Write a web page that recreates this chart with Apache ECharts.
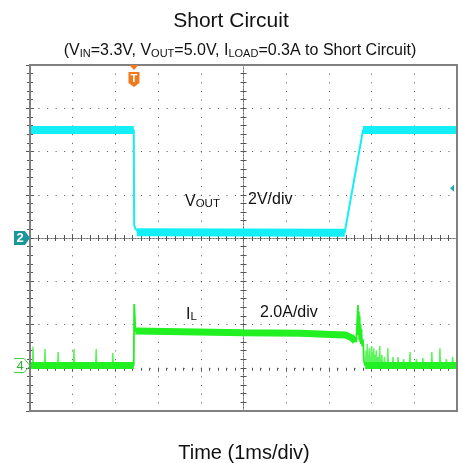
<!DOCTYPE html>
<html><head><meta charset="utf-8">
<script src="https://cdn.jsdelivr.net/npm/echarts@6/dist/echarts.min.js"></script>
<style>html,body{margin:0;padding:0;background:#fff}#c{width:462px;height:463px}</style>
</head><body><div id="c"></div>
<script>
// ---- data (time in ms, VOUT in V, IL in A) ----
const voutTime = [0, 2.43, 2.44, 2.47, 2.52, 2.60, 7.37, 7.80, 10];
const voutVolt = [5.0, 5.0, 0.6, 0.42, 0.32, 0.25, 0.25, 5.0, 5.0];
// flat (noisy, thick) parts of VOUT; null separates segments
const voutBandTime = [0, 2.43, null, 2.50, 7.37, null, 7.80, 10];
const voutBandVolt = [5.0, 5.0, null, 0.27, 0.24, null, 5.0, 5.0];

const ilTime = [0, 2.43, 2.44, 2.47, 2.60, 5.0, 6.32, 7.38, 7.54, 7.64, 7.68, 7.69, 7.70, 7.71, 7.72, 7.73, 7.74, 7.75, 7.76, 7.78, 7.80, 7.82, 7.85, 10];
const ilAmp  = [0.1, 0.1, 2.95, 1.7, 1.72, 1.62, 1.6, 1.52, 1.38, 1.19, 2.9, 1.5, 2.6, 1.3, 2.4, 1.2, 2.0, 1.1, 1.8, 1.0, 1.3, 0.3, 0.1, 0.1];
const ilBandTime = [0, 2.43, null, 2.47, 5.0, 6.32, 7.38, 7.54, 7.62, null, 7.85, 10];
const ilBandAmp  = [0.1, 0.1, null, 1.7, 1.62, 1.6, 1.52, 1.38, 1.22, null, 0.1, 0.1];
// noise spikes on IL (time, peak)
const ilSpikeTime = [0.07, 0.35, 0.66, 1.03, 1.55, 1.94,
  7.87, 7.90, 7.92, 7.95, 7.97, 8.00, 8.02, 8.05, 8.08, 8.11, 8.15, 8.19, 8.24, 8.30, 8.38, 8.50, 8.62, 8.75, 8.90, 9.05, 9.20, 9.41, 9.60, 9.75, 9.90];
const ilSpikePeak = [0.97, 0.87, 0.73, 0.87, 0.87, 0.68,
  0.8, 1.1, 0.6, 0.9, 0.5, 1.0, 0.7, 0.9, 0.6, 0.8, 0.5, 1.0, 0.6, 0.5, 0.9, 0.5, 0.5, 0.4, 0.73, 0.4, 0.45, 0.73, 0.9, 0.4, 0.5];
const ilSpikeBase = 0.1;

// axis scales
const timeMin = 0, timeMax = 10, timeStep = 1;
const voutMin = -8, voutMax = 8, voutStep = 2;
const ilMin = -2, ilMax = 14, ilStep = 2;

function pairs(xs, ys) { return xs.map((x, i) => (x === null ? [null, null] : [x, ys[i]])); }
function spikes() {
  const out = [];
  ilSpikeTime.forEach((t, i) => {
    out.push([t - 0.012, ilSpikeBase], [t, ilSpikePeak[i]], [t + 0.012, ilSpikeBase], [null, null]);
  });
  return out;
}

const cyan = '#14eef6';
const green = '#22f022', greenThin = '#5cf45c';
const tickCol = '#555';
const FONT = '"Liberation Sans", Arial, sans-serif';

const chart = echarts.init(document.getElementById('c'), null, { renderer: 'canvas' });

const gridRect = { left: 30, right: 5, top: 65, bottom: 52 };
const dotsV = [1, 7.65], dotsH = [1, 7.54];

const borderAxis = (extra) => Object.assign({
  type: 'value', min: timeMin, max: timeMax, interval: timeStep,
  axisLine: { show: false },
  axisTick: { show: true, inside: true, length: 4, lineStyle: { color: tickCol } },
  minorTick: { show: true, splitNumber: 5, length: 3, lineStyle: { color: tickCol } },
  axisLabel: { show: false }, splitLine: { show: false }
}, extra);

const centerAxis = (extra) => Object.assign({
  type: 'value',
  axisLine: { show: true, onZero: true, lineStyle: { color: '#666', type: [1, 2], width: 1 } },
  axisTick: { show: true, length: 3, lineStyle: { color: tickCol } },
  minorTick: { show: true, splitNumber: 5, length: 3, lineStyle: { color: tickCol } },
  axisLabel: { show: false }, splitLine: { show: false }
}, extra);

const option = {
  animation: false,
  backgroundColor: '#fff',
  grid: [
    Object.assign({ show: true, borderColor: '#808080', borderWidth: 2, backgroundColor: 'transparent', z: 5 }, gridRect),
    Object.assign({}, gridRect),
    Object.assign({}, gridRect)
  ],
  xAxis: [
    borderAxis({ gridIndex: 0, position: 'bottom',
      splitLine: { show: true, lineStyle: { color: '#555', type: dotsV, width: 1 } } }),
    borderAxis({ gridIndex: 0, position: 'top' }),
    centerAxis({ gridIndex: 1, position: 'bottom', min: -5, max: 5, interval: 1,
      axisTick: { show: true, inside: true, length: 3, lineStyle: { color: tickCol } } }),
    centerAxis({ gridIndex: 2, position: 'bottom', min: -5, max: 5, interval: 1,
      axisTick: { show: true, inside: false, length: 3, lineStyle: { color: tickCol } } })
  ],
  yAxis: [
    borderAxis({ gridIndex: 0, position: 'left', min: voutMin, max: voutMax, interval: voutStep,
      splitLine: { show: true, lineStyle: { color: '#555', type: dotsH, width: 1 } } }),
    borderAxis({ gridIndex: 0, position: 'right', min: ilMin, max: ilMax, interval: ilStep }),
    centerAxis({ gridIndex: 1, position: 'left', min: -4, max: 4, interval: 1,
      axisTick: { show: true, inside: true, length: 3, lineStyle: { color: tickCol } } }),
    centerAxis({ gridIndex: 2, position: 'left', min: -4, max: 4, interval: 1,
      axisTick: { show: true, inside: false, length: 3, lineStyle: { color: tickCol } } })
  ],
  series: [
    { name: 'VOUT band', type: 'line', xAxisIndex: 0, yAxisIndex: 0, data: pairs(voutBandTime, voutBandVolt),
      showSymbol: false, connectNulls: false, lineStyle: { color: cyan, width: 8 }, z: 3 },
    { name: 'VOUT', type: 'line', xAxisIndex: 0, yAxisIndex: 0, data: pairs(voutTime, voutVolt),
      showSymbol: false, lineStyle: { color: cyan, width: 2 }, z: 4 },
    { name: 'IL spikes', type: 'line', xAxisIndex: 0, yAxisIndex: 1, data: spikes(),
      showSymbol: false, connectNulls: false, lineStyle: { color: greenThin, width: 1.5 }, z: 3 },
    { name: 'IL band', type: 'line', xAxisIndex: 0, yAxisIndex: 1, data: pairs(ilBandTime, ilBandAmp),
      showSymbol: false, connectNulls: false, lineStyle: { color: green, width: 7 }, z: 3 },
    { name: 'IL', type: 'line', xAxisIndex: 0, yAxisIndex: 1, data: pairs(ilTime, ilAmp),
      showSymbol: false, lineStyle: { color: green, width: 1.8 }, z: 4 }
  ]
};
chart.setOption(option);

// ---- annotations / scope markers positioned from the axes ----
const trigX = chart.convertToPixel({ xAxisIndex: 0 }, voutTime[1] + 0.005);
const ch2Y = chart.convertToPixel({ yAxisIndex: 0 }, 0);
const ch4Y = chart.convertToPixel({ yAxisIndex: 1 }, ilSpikeBase);
const topY = gridRect.top;
const rightX = 462 - gridRect.right;
const trigLevelY = chart.convertToPixel({ yAxisIndex: 0 }, 2.3);

const txt = (x, y, text, size, rich, extra) => Object.assign({
  type: 'text', x, y, z: 20,
  style: Object.assign({ text, fill: '#111', fontFamily: FONT, fontSize: size,
    align: 'center', verticalAlign: 'middle', rich: rich || {} }, extra || {})
});

const subRich = {
  n: { fontSize: 16, fontFamily: FONT, fill: '#111', lineHeight: 20, verticalAlign: 'bottom' },
  s: { fontSize: 11, fontFamily: FONT, fill: '#111', lineHeight: 20, verticalAlign: 'bottom', padding: [5, 0, 0, 0] }
};
const labRich = {
  n: { fontSize: 16, fontFamily: FONT, fill: '#111', lineHeight: 19, verticalAlign: 'bottom' },
  s: { fontSize: 11.5, fontFamily: FONT, fill: '#111', lineHeight: 19, verticalAlign: 'bottom' }
};

chart.setOption({
  graphic: [
    txt(231, 21, 'Short Circuit', 21),
    txt(240, 49, '{n|(V}{s|IN}{n|=3.3V, V}{s|OUT}{n|=5.0V, I}{s|LOAD}{n|=0.3A to Short Circuit)}', 16, subRich),
    txt(244, 453, 'Time (1ms/div)', 20),
    txt(185, 200, '{n|V}{s|OUT}', 16, labRich, { align: 'left' }),
    txt(248, 200, '2V/div', 16, null, { align: 'left' }),
    txt(186, 313, '{n|I}{s|L}', 16, labRich, { align: 'left' }),
    txt(260, 313, '2.0A/div', 16, null, { align: 'left' }),
    // channel 2 ground marker
    { type: 'polygon', z: 20, shape: { points: [[14, ch2Y - 7], [25, ch2Y - 7], [30, ch2Y], [25, ch2Y + 7], [14, ch2Y + 7]] },
      style: { fill: '#1a969c' } },
    txt(20, ch2Y + 0.5, '2', 13, null, { fill: '#fff', fontWeight: 'bold' }),
    // channel 4 ground marker
    { type: 'polyline', z: 20, shape: { points: [[14, ch4Y - 7], [24, ch4Y - 7], [30, ch4Y], [24, ch4Y + 7], [14, ch4Y + 7]] },
      style: { stroke: '#3ccc3c', fill: null, lineWidth: 1 } },
    txt(20, ch4Y + 0.5, '4', 13, null, { fill: '#2bb52b' }),
    // trigger marker
    { type: 'polygon', z: 20, shape: { points: [[trigX - 4.5, topY], [trigX + 4.5, topY], [trigX, topY + 5]] },
      style: { fill: '#f07a1e' } },
    { type: 'polygon', z: 20, shape: { points: [[trigX - 5.5, topY + 7], [trigX + 5.5, topY + 7], [trigX + 5.5, topY + 18],
        [trigX, topY + 22], [trigX - 5.5, topY + 18]] }, style: { fill: '#f07a1e' } },
    txt(trigX, topY + 14, 'T', 11, null, { fill: '#fff', fontWeight: 'bold' }),
    // trigger level marker on the right
    { type: 'polygon', z: 20, shape: { points: [[rightX - 7, trigLevelY], [rightX - 3, trigLevelY - 3.5], [rightX - 3, trigLevelY + 3.5]] },
      style: { fill: '#1aaab2' } }
  ]
});
</script>
</body></html>
